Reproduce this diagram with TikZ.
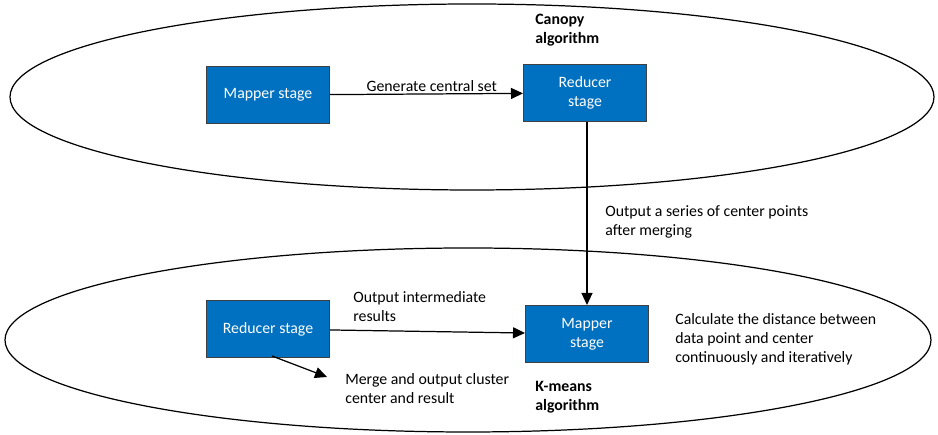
\documentclass[tikz,border=0pt]{standalone}
\usepackage{fontspec}
\setmainfont{Carlito}
\usetikzlibrary{arrows.meta}
\definecolor{boxblue}{HTML}{0070C0}
\begin{document}
\begin{tikzpicture}[x=0.02cm,y=0.02cm,>={Triangle[length=2.4mm,width=2.2mm]},font=\fontsize{9}{10.8}\selectfont]
\tikzstyle{stage}=[rectangle,draw=black!75,line width=0.6pt,fill=boxblue,text=white,minimum width=2.46cm,minimum height=1.14cm,align=center,inner sep=1pt]
\tikzstyle{note}=[align=left,anchor=north west,inner sep=0pt]
\useasboundingbox (0,0) rectangle (938,435);
% the two algorithms
\draw[line width=0.7pt] (472,338) ellipse (462 and 93);
\draw[line width=0.7pt] (468,95) ellipse (463 and 92);
\node[note,font=\fontsize{9}{10.8}\selectfont\bfseries](canopy) at (535,421) {Canopy\\algorithm};
\node[note,font=\fontsize{9}{10.8}\selectfont\bfseries](kmeans) at (535,54) {K-means\\algorithm};
% stages
\node[stage](M1) at (268,340) {Mapper stage};
\node[stage](R1) at (585,342) {Reducer\\stage};
\node[stage](R2) at (268,106) {Reducer stage};
\node[stage](M2) at (587,101) {Mapper\\stage};
\coordinate (out) at (327,58);
% connectors
\draw[->,line width=0.7pt] (M1) -- node[above,inner sep=1pt,xshift=3pt](gen){Generate central set} (R1);
\draw[->,line width=0.7pt] (R1.south -| M2.north) -- (M2.north);
\draw[->,line width=0.7pt] (R2) -- (M2);
\draw[->,line width=0.7pt] (272,79) -- (out);
% labels
\node[note](series) at (605,230) {Output a series of center points\\after merging};
\node[note](inter) at (353,144) {Output intermediate\\results};
\node[note](merge) at (345,62) {Merge and output cluster\\center and result};
\node[note](calc) at (675,122) {Calculate the distance between\\data point and center\\continuously and iteratively};
\end{tikzpicture}
\end{document}
